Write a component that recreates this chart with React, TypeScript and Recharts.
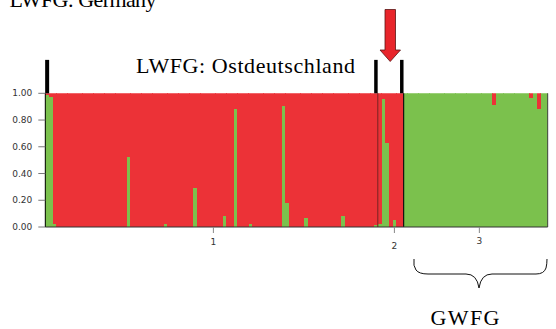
import React from "react";
import { BarChart, Bar, XAxis, YAxis, ReferenceLine } from "recharts";

const popLabels = ["1", "2", "3"];
const popSizes = [90, 7, 39];
const popTickIndex = [45, 94, 117];
const yTicks = [0, 0.2, 0.4, 0.6, 0.8, 1];

// share of the green cluster per individual (red = the rest)
const pop1Green = [
  0.99, 0.97, 0.025, 0, 0, 0, 0, 0, 0, 0,
  0, 0, 0, 0, 0, 0, 0, 0, 0, 0,
  0, 0, 0.52, 0, 0, 0, 0, 0, 0, 0,
  0, 0, 0.02, 0, 0, 0, 0, 0, 0, 0,
  0.29, 0, 0, 0, 0, 0, 0, 0, 0.08, 0,
  0, 0.88, 0, 0, 0, 0.02, 0, 0, 0, 0,
  0, 0, 0, 0, 0.905, 0.18, 0, 0, 0, 0,
  0.065, 0, 0, 0, 0, 0, 0, 0, 0, 0,
  0.08, 0, 0, 0, 0, 0, 0, 0, 0, 0.017,
];
const pop2Green = [0.02, 0.955, 0.63, 0, 0.055, 0, 0];
const pop3Green = [
  1, 1, 1, 1, 1, 1, 1, 1, 1, 1,
  1, 1, 1, 1, 1, 1, 1, 1, 1, 1,
  1, 1, 1, 1, 0.91, 1, 1, 1, 1, 1,
  1, 1, 1, 1, 0.965, 1, 0.885, 1, 1,
];

const RED = "#ec3237";
const GREEN = "#7bc14d";

const data = [...pop1Green, ...pop2Green, ...pop3Green].map((g, i) => ({
  idx: i,
  green: g,
  red: +(1 - g).toFixed(3),
}));

const pop1End = popSizes[0];
const pop2End = popSizes[0] + popSizes[1];

const PopTick = ({ x, y, payload }: any) => {
  const label = popLabels[popTickIndex.indexOf(payload.value)];
  const dy = label === "2" ? 14 : label === "3" ? 9 : 10;
  return (
    <text x={x} y={y} dy={dy} textAnchor="middle" fontSize={9} fill="#333" fontFamily="DejaVu Sans">
      {label}
    </text>
  );
};

const serif = "Liberation Serif, Times New Roman, serif";

export default function App() {
  return (
    <div style={{ position: "absolute", left: 0, top: 0, width: 556, height: 329, background: "#fff" }}>
      <style>{`.recharts-bar-rectangle path { shape-rendering: crispEdges; }`}</style>
      <BarChart
        width={556}
        height={329}
        data={data}
        margin={{ top: 93.3, right: 8.3, left: 0, bottom: 72 }}
        barCategoryGap={0}
        barGap={0}
      >
        <XAxis
          dataKey="idx"
          ticks={popTickIndex}
          interval={0}
          height={30}
          tick={<PopTick />}
          tickSize={6}
          tickLine={{ stroke: "#888" }}
          axisLine={{ stroke: "#333" }}
        />
        <YAxis
          width={45.3}
          domain={[0, 1]}
          ticks={yTicks}
          tickFormatter={(v: number) => v.toFixed(2)}
          tickSize={7}
          tickMargin={6}
          tick={{ fontSize: 9, fill: "#333", fontFamily: "DejaVu Sans" }}
          tickLine={{ stroke: "#777" }}
          axisLine={{ stroke: "#000" }}
          allowDataOverflow
        />
        <Bar dataKey="green" stackId="q" fill={GREEN} isAnimationActive={false} />
        <Bar dataKey="red" stackId="q" fill={RED} isAnimationActive={false} />
        <ReferenceLine x={pop1End} position="start" stroke="#8a2626" strokeWidth={1.2} />
        <ReferenceLine x={pop2End} position="start" stroke="#111" strokeWidth={1.2} />
        <ReferenceLine x={data.length - 1} position="end" stroke="#444" strokeWidth={1} />
        <ReferenceLine
          segment={[{ x: 0, y: 1 }, { x: 0, y: 1.25 }]}
          position="middle"
          stroke="#000"
          strokeWidth={4}
          ifOverflow="visible"
        />
        <ReferenceLine
          segment={[{ x: pop1End - 1, y: 1 }, { x: pop1End - 1, y: 1.25 }]}
          position="middle"
          stroke="#000"
          strokeWidth={3.5}
          ifOverflow="visible"
        />
        <ReferenceLine
          segment={[{ x: pop2End - 1, y: 1 }, { x: pop2End - 1, y: 1.25 }]}
          position="middle"
          stroke="#000"
          strokeWidth={3.5}
          ifOverflow="visible"
        />
      </BarChart>
      <svg
        width={556}
        height={329}
        style={{ position: "absolute", left: 0, top: 0, pointerEvents: "none" }}
      >
        <text x={9.5} y={6.5} fontFamily={serif} fontSize={22} textLength={147} fill="#000">
          LWFG: Germany
        </text>
        <text x={136} y={73} fontFamily={serif} fontSize={22} textLength={219} fill="#000">
          LWFG: Ostdeutschland
        </text>
        <path
          d="M385,9.5 L395.5,9.5 L395.5,50 L400.5,50 L390.2,61.5 L380,50 L385,50 Z"
          fill="#e8252b"
          stroke="#5a1515"
          strokeWidth={0.8}
        />
        <path
          d="M414,259 Q413,266 416,270 Q419,274 428,274 L466,274 Q477,274 479,288 Q481,274 492,274 L536,274 Q544,274 546,268 Q547,264 547,259"
          fill="none"
          stroke="#111"
          strokeWidth={1}
        />
        <text x={430.5} y={325} fontFamily={serif} fontSize={22} textLength={69} fill="#000">
          GWFG
        </text>
      </svg>
    </div>
  );
}
